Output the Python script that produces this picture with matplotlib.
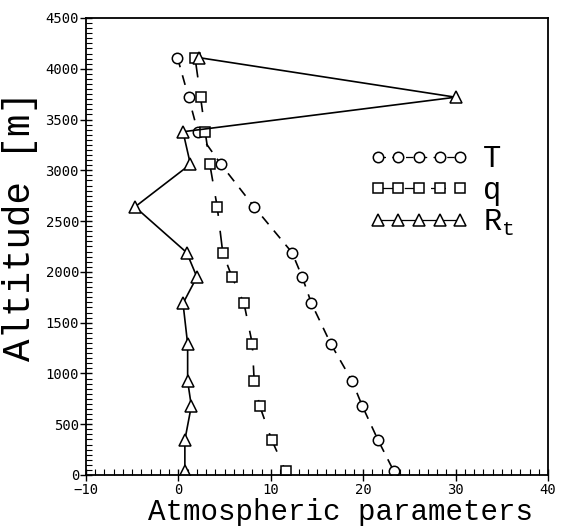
import numpy as np
import matplotlib.pyplot as plt
from matplotlib.ticker import MultipleLocator

plt.rcParams['mathtext.fontset'] = 'custom'
plt.rcParams['mathtext.rm'] = 'Liberation Mono'
plt.rcParams['mathtext.it'] = 'Liberation Mono'

# sounding levels (m) and the three profiles
alt = [4110, 3720, 3380, 3060, 2640, 2190, 1950, 1690, 1290, 925, 680, 345, 40]
T = [-0.1, 1.1, 2.1, 4.6, 8.2, 12.3, 13.4, 14.4, 16.5, 18.8, 19.9, 21.6, 23.3]
q = [1.8, 2.4, 2.9, 3.4, 4.2, 4.8, 5.8, 7.1, 8.0, 8.2, 8.8, 10.1, 11.6]
Rt = [2.2, 30.0, 0.5, 1.3, -4.7, 0.9, 2.0, 0.5, 1.0, 1.0, 1.4, 0.7, 0.7]

fig = plt.figure(figsize=(5.69, 5.26), dpi=100)
ax = fig.add_axes([86/569, 1-475/526, (548-86)/569, (475-18)/526])

mk = dict(mfc='white', mec='black', mew=1.1, color='black', lw=1.2)
ax.plot(T, alt, marker='o', ms=7.5, dashes=(6, 5), label='T', **mk)
ax.plot(q, alt, marker='s', ms=7, dashes=(12, 9), label='q', **mk)
ax.plot(Rt, alt, marker='^', ms=8, ls='-', label=r'R$_\mathrm{t}$', **mk)

ax.set_xlim(-10, 40)
ax.set_ylim(0, 4500)
ax.xaxis.set_major_locator(MultipleLocator(10))
ax.xaxis.set_minor_locator(MultipleLocator(1))
ax.yaxis.set_major_locator(MultipleLocator(500))
ax.yaxis.set_minor_locator(MultipleLocator(50))
ax.tick_params(which='major', direction='inout', length=8, width=1,
               top=False, right=False)
ax.tick_params(which='minor', direction='in', length=4, width=0.8,
               top=False, right=False)
ax.tick_params(axis='x', which='major', pad=1.5)
ax.tick_params(axis='y', which='major', pad=1)
for lab in ax.get_xticklabels() + ax.get_yticklabels():
    lab.set_family('DejaVu Sans Mono')
    lab.set_fontsize(10)
for s in ax.spines.values():
    s.set_linewidth(1.3)

leg = ax.legend(loc='upper left', bbox_to_anchor=(0.585, 0.75), numpoints=5,
                frameon=False, handlelength=3.3, handletextpad=0.45,
                labelspacing=0.05, borderaxespad=0,
                prop={'family': 'Liberation Mono', 'size': 22})
for h in leg.get_lines():
    h.set_linewidth(0.9)

fig.text(20/569, 1-226/526, 'Altitude [m]', rotation=90, ha='center',
         va='center', family='Liberation Mono', fontsize=27)
fig.text(340/569, 1-520/526, 'Atmospheric parameters', ha='center',
         va='baseline', family='Liberation Mono', fontsize=21)

fig.savefig('out.png', dpi=100)
